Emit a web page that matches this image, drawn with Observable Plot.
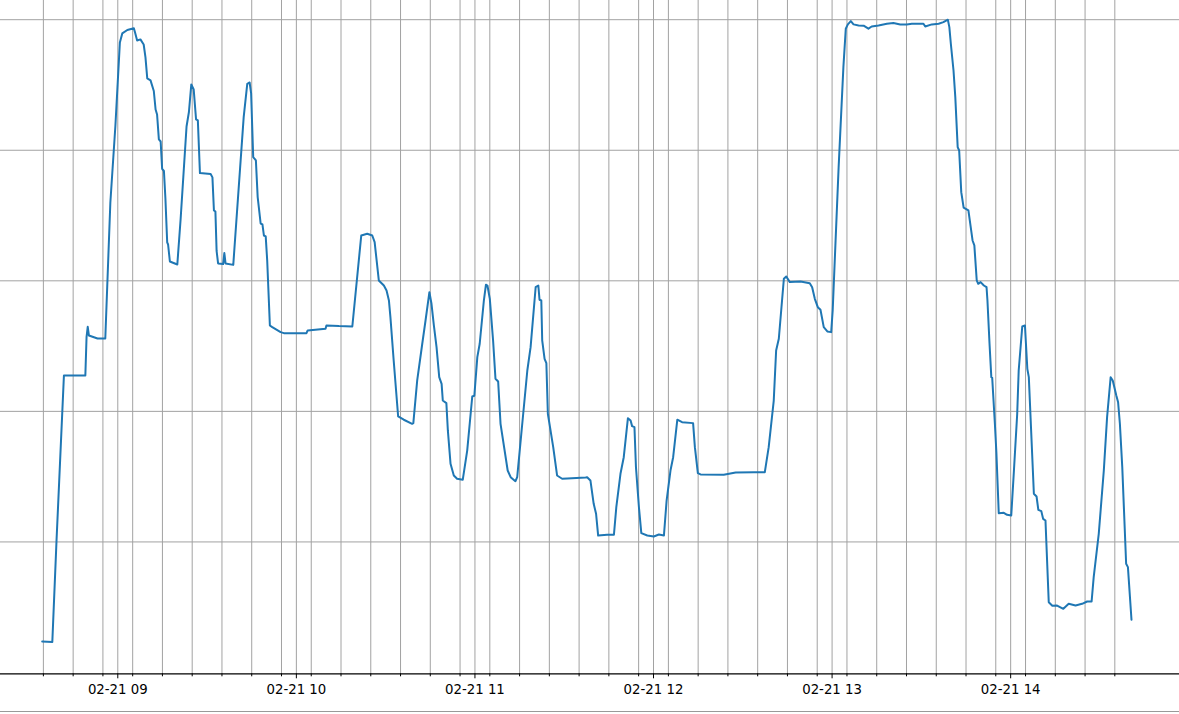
<!DOCTYPE html>
<html><head><meta charset="utf-8">
<script src="https://cdn.jsdelivr.net/npm/d3@7"></script>
<script src="https://cdn.jsdelivr.net/npm/@observablehq/plot@0.6"></script>
<style>
html,body{margin:0;padding:0;background:#fff;overflow:hidden}
#chart{position:relative;width:1179px;height:714px}
#frame{position:absolute;left:0;top:711px;width:1179px;height:1px;background:#999}
</style></head><body><div id="chart"></div><div id="frame"></div>
<script>
// minutes after 08:00 on 02-21
const minutes = [
34.6, 38.0, 39.4, 41.9, 49.1, 49.5, 49.9, 50.3, 53.2, 55.8,
57.5, 59.2, 60.7, 61.5, 63.2, 65.4, 65.8, 66.5, 67.6, 68.7,
69.3, 69.9, 71.0, 72.1, 72.7, 73.2, 73.8, 74.4, 74.9, 75.5,
76.0, 76.6, 76.9, 77.5, 80.0, 81.1, 83.1, 83.9, 84.7, 85.5,
86.3, 86.9, 87.6, 91.2, 91.8, 92.3, 92.8, 93.2, 93.7, 95.4,
95.8, 96.2, 98.8, 102.3, 103.5, 104.3, 104.8, 105.5, 106.4, 107.0,
108.0, 108.6, 109.1, 109.7, 110.2, 111.1, 111.9, 114.7, 115.8, 123.4,
123.8, 129.8, 130.1, 134.3, 138.8, 141.8, 143.8, 145.5, 146.3, 147.7,
149.4, 150.3, 151.1, 151.6, 152.7, 154.2, 156.1, 158.9, 159.3, 160.6,
162.3, 163.4, 164.7, 165.4, 166.2, 167.1, 168.0, 168.8, 169.2, 170.4,
170.9, 171.8, 172.9, 174.0, 175.9, 177.4, 179.1, 179.8, 180.8, 181.6,
183.0, 183.7, 184.2, 185.0, 186.1, 186.9, 187.8, 188.6, 191.0, 192.0,
193.6, 194.2, 195.9, 197.6, 198.7, 200.4, 201.3, 201.7, 202.3, 202.6,
203.4, 204.0, 204.5, 206.3, 207.6, 209.3, 211.0, 217.2, 217.7, 218.8,
219.9, 220.7, 221.4, 224.4, 226.7, 227.5, 228.9, 230.0, 231.4, 232.3,
232.8, 233.6, 234.1, 235.1, 235.9, 237.9, 240.1, 241.8, 243.5, 244.4,
245.7, 246.6, 248.0, 249.6, 253.3, 253.9, 254.9, 255.8, 263.6, 267.6,
273.7, 277.4, 278.7, 280.4, 281.2, 282.1, 283.8, 284.6, 285.8, 289.4,
292.5, 293.3, 294.2, 295.2, 296.1, 297.2, 298.4, 299.7, 300.2, 302.2,
303.8, 304.6, 305.3, 306.3, 307.2, 308.9, 310.6, 312.2, 313.3, 315.6,
318.4, 320.6, 322.9, 325.1, 326.8, 330.7, 331.3, 333.5, 335.8, 337.4,
338.9, 339.4, 339.9, 340.8, 341.4, 342.2, 342.7, 343.4, 344.2, 345.8,
347.2, 347.8, 348.6, 349.1, 349.9, 351.0, 351.9, 352.2, 352.9, 353.5,
353.8, 354.7, 355.2, 356.0, 357.7, 358.8, 360.2, 361.1, 362.2, 362.7,
363.9, 364.8, 365.6, 366.1, 367.8, 368.7, 369.3, 370.3, 370.9, 371.7,
372.8, 374.0, 375.6, 377.7, 379.5, 381.8, 384.0, 385.7, 387.2, 387.9,
389.6, 391.3, 392.4, 393.6, 394.3, 395.5, 396.1, 396.7, 397.5, 398.8,
399.4, 400.6
];
const values = [
2.37, 2.34, 10.03, 22.75, 22.75, 25.68, 26.48, 25.81, 25.58, 25.58,
36.0, 41.9, 48.26, 48.95, 49.21, 49.34, 49.02, 48.41, 48.49, 48.10,
47.11, 45.5, 45.35, 44.54, 43.12, 42.74, 40.83, 40.67, 38.57, 38.41,
36.31, 32.94, 32.78, 31.48, 31.25, 34.7, 41.82, 42.93, 45.04, 44.66,
42.36, 42.28, 38.25, 38.18, 37.92, 35.39, 35.31, 32.29, 31.33, 31.28,
32.13, 31.33, 31.22, 42.54, 45.09, 45.19, 44.35, 39.47, 39.22, 36.41,
34.39, 34.32, 33.47, 33.4, 31.56, 26.58, 26.45, 26.07, 25.99, 25.99,
26.2, 26.33, 26.58, 26.53, 26.5, 33.47, 33.6, 33.47, 32.96, 30.03,
29.64, 29.26, 28.49, 27.22, 23.9, 19.61, 19.36, 19.05, 19.1, 22.37,
25.18, 26.96, 29.13, 28.24, 26.58, 24.92, 22.62, 22.11, 20.83, 20.63,
18.54, 15.99, 15.09, 14.84, 14.76, 17.0, 21.14, 21.2, 24.15, 25.18,
28.49, 29.7, 29.64, 28.62, 25.43, 22.5, 22.29, 19.05, 15.47, 14.96,
14.65, 14.96, 19.05, 23.13, 24.92, 29.51, 29.64, 28.55, 28.49, 25.43,
24.03, 23.69, 19.82, 17.26, 15.09, 14.84, 14.86, 14.94, 14.96, 14.71,
12.92, 12.16, 10.49, 10.55, 10.55, 12.66, 15.22, 16.49, 19.48, 19.3,
18.87, 18.79, 15.73, 12.66, 10.67, 10.49, 10.42, 10.57, 10.49, 13.17,
15.47, 16.49, 19.36, 19.17, 19.1, 17.26, 15.27, 15.17, 15.14, 15.32,
15.34, 15.34, 17.26, 20.83, 24.66, 25.56, 30.16, 30.33, 29.9, 29.95,
29.82, 29.51, 28.62, 27.98, 27.78, 26.45, 26.12, 26.07, 27.73, 38.71,
46.37, 49.31, 49.64, 49.89, 49.64, 49.56, 49.54, 49.31, 49.48, 49.56,
49.69, 49.74, 49.64, 49.64, 49.69, 49.69, 49.48, 49.64, 49.69, 49.81,
50.0, 49.43, 48.16, 46.11, 44.07, 40.24, 39.98, 36.79, 35.6, 35.39,
33.09, 32.71, 30.03, 29.77, 29.9, 29.64, 29.51, 28.49, 25.18, 22.62,
22.57, 19.05, 16.87, 12.2, 12.23, 12.08, 12.03, 15.47, 19.82, 23.13,
26.5, 26.58, 23.26, 22.62, 13.69, 13.48, 12.46, 12.36, 11.77, 11.64,
5.38, 5.11, 5.13, 4.88, 5.26, 5.13, 5.26, 5.44, 5.44, 7.3,
10.62, 15.47, 19.56, 22.62, 22.37, 21.22, 20.7, 19.05, 15.73, 8.33,
8.07, 4.04
];
const majorHours = [9, 10, 11, 12, 13, 14];
const majorLabels = ["02-21 09", "02-21 10", "02-21 11", "02-21 12", "02-21 13", "02-21 14"];
const minorOffsets = [5, 15, 25, 35, 45, 55]; // minutes past each hour
const yGrid = [10, 20, 30, 40, 50];

const base = Date.UTC(2024, 1, 21, 8, 0);
const toDate = m => new Date(base + m * 60000);
const data = minutes.map((m, i) => ({t: toDate(m), v: values[i]}));
const majors = majorHours.map(h => toDate((h - 8) * 60));
const labelOf = new Map(majors.map((d, i) => [+d, majorLabels[i]]));
const minors = [];
for (let h = 8; h <= 14; h++) for (const o of minorOffsets) {
  const m = (h - 8) * 60 + o;
  if (m >= 35 && m <= 395) minors.push(toDate(m));
}
const gridColor = "#a2a2a2";
const chart = Plot.plot({
  width: 1179, height: 714,
  marginLeft: 0, marginRight: 0, marginTop: 0, marginBottom: 40.7,
  style: {fontFamily: "DejaVu Sans", fontSize: "13.3px", color: "#000", background: "#fff", overflow: "visible"},
  x: {type: "utc", domain: [toDate(20.59), toDate(416.73)], axis: null, label: null},
  y: {domain: [-0.1, 51.47], axis: null, label: null},
  marks: [
    Plot.gridX([...minors, ...majors], {stroke: gridColor, strokeOpacity: 1, strokeWidth: 1}),
    Plot.gridY(yGrid, {stroke: gridColor, strokeOpacity: 1, strokeWidth: 1}),
    Plot.line(data, {x: "t", y: "v", stroke: "#1f77b4", strokeWidth: 2, strokeLinejoin: "round"}),
    Plot.ruleY([-0.1], {stroke: "#000", strokeWidth: 1.2}),
    Plot.axisX(minors, {anchor: "bottom", label: null, tickSize: 3, tickFormat: () => "", stroke: "#000", strokeOpacity: 1}),
    Plot.axisX(majors, {anchor: "bottom", label: null, tickSize: 5, tickPadding: 5.6, tickFormat: d => labelOf.get(+d), stroke: "#000", strokeOpacity: 1, fill: "#000", fontSize: 13.3})
  ]
});
document.getElementById("chart").appendChild(chart);
</script></body></html>
